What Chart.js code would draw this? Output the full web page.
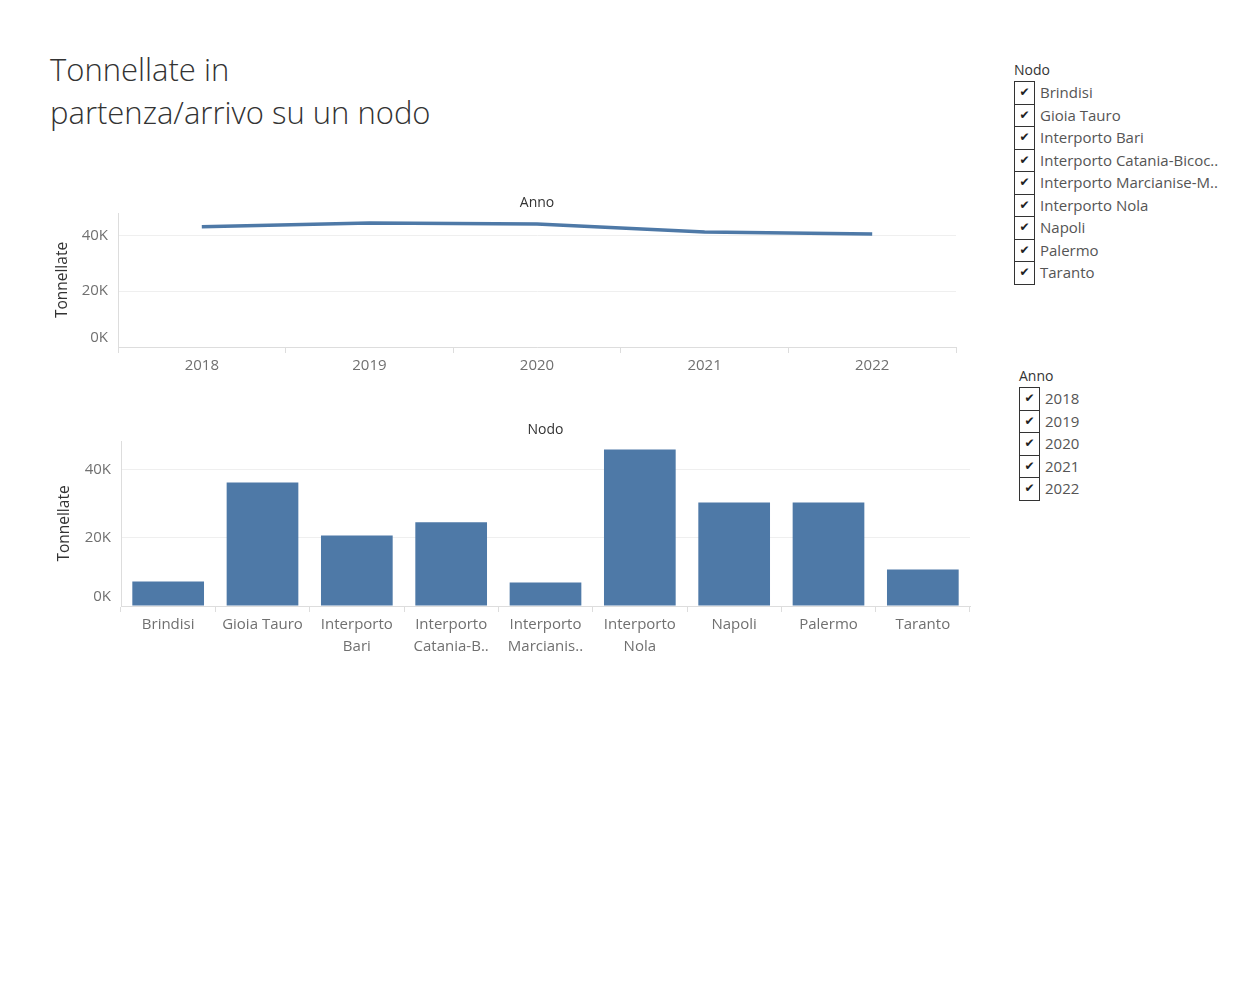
<!DOCTYPE html>
<html>
<head>
<meta charset="utf-8">
<script src="https://cdn.jsdelivr.net/npm/chart.js@4.4.1/dist/chart.umd.min.js"></script>
<style>
  body {
    margin: 0;
    background: #ffffff;
    font-family: "Open Sans", Lato, sans-serif;
  }

  #page {
    position: relative;
    width: 1250px;
    height: 1000px;
  }

  h1 {
    position: absolute;
    left: 50px;
    top: 48px;
    margin: 0;
    font-size: 31px;
    font-weight: 300;
    line-height: 43px;
    color: #333333;
  }

  .chartBox {
    position: absolute;
    left: 40px;
    width: 940px;
  }

  .filter {
    position: absolute;
    font-size: 15px;
    color: #555555;
  }

  .filter .head {
    font-size: 14px;
    color: #333333;
    height: 22px;
    line-height: 22px;
  }

  .filter .row {
    display: flex;
    align-items: center;
    height: 22.5px;
  }

  .filter .box {
    box-sizing: border-box;
    width: 21px;
    height: 23.5px;
    margin-bottom: -1px;
    border: 1px solid #333333;
    font-family: "DejaVu Sans", sans-serif;
    font-size: 12px;
    font-weight: bold;
    color: #222222;
    text-align: center;
    line-height: 21px;
    margin-right: 5px;
  }
</style>
</head>
<body>
<div id="page">
  <h1>Tonnellate in<br>partenza/arrivo su un nodo</h1>

  <div class="chartBox" style="top: 190px; height: 190px;">
    <canvas id="annoChart"></canvas>
  </div>

  <div class="chartBox" style="top: 415px; height: 250px;">
    <canvas id="nodoChart"></canvas>
  </div>

  <div class="filter" id="nodoFilter" style="left: 1014px; top: 59px;"></div>
  <div class="filter" id="annoFilter" style="left: 1019px; top: 365px;"></div>
</div>

<script>
// ======================================
// Dati
// ======================================

const anni = ["2018", "2019", "2020", "2021", "2022"];
const tonnellatePerAnno = [43100, 44400, 44050, 41200, 40500];

const nodiLegenda = [
  "Brindisi",
  "Gioia Tauro",
  "Interporto Bari",
  "Interporto Catania-Bicoc..",
  "Interporto Marcianise-M..",
  "Interporto Nola",
  "Napoli",
  "Palermo",
  "Taranto"
];

const nodiAsse = [
  "Brindisi",
  "Gioia Tauro",
  ["Interporto", "Bari"],
  ["Interporto", "Catania-B.."],
  ["Interporto", "Marcianis.."],
  ["Interporto", "Nola"],
  "Napoli",
  "Palermo",
  "Taranto"
];

const tonnellatePerNodo = [7200, 36300, 20700, 24600, 6900, 46000, 30400, 30400, 10700];

const yTicks = [0, 20000, 40000];


// ======================================
// Stile comune
// ======================================

const blu = "#4e79a7";
const grigioTesto = "#707070";
const grigioGriglia = "#efefef";
const grigioAsse = "#dddddd";
const fontFamily = "'Open Sans', Lato, sans-serif";

Chart.defaults.font.family = fontFamily;
Chart.defaults.animation = false;

// intestazione sopra l'area del grafico (come in Tableau)
const headerPlugin = {
  id: "header",
  afterDraw(chart, args, opts) {
    const { ctx, chartArea } = chart;
    ctx.save();
    ctx.font = "14px " + fontFamily;
    ctx.fillStyle = "#333333";
    ctx.textAlign = "center";
    ctx.textBaseline = "middle";
    ctx.fillText(opts.text, (chartArea.left + chartArea.right) / 2, chartArea.top - opts.gap);
    ctx.restore();
  }
};

// lo 0K sta sopra la linea di base: riga vuota sotto per alzarlo
function formatK(value) {
  if (value === 0) {
    return ["0K", ""];
  }
  return value / 1000 + "K";
}

function yScale(max, width, titlePad) {
  return {
    min: 0,
    max: max,
    afterBuildTicks: (scale) => {
      scale.ticks = yTicks.map((v) => ({ value: v }));
    },
    afterFit: (scale) => {
      scale.width = width;
    },
    grid: {
      color: grigioGriglia,
      drawTicks: false
    },
    border: {
      color: grigioAsse
    },
    ticks: {
      padding: 10,
      color: grigioTesto,
      font: { size: 15, lineHeight: 1.3 },
      callback: formatK
    },
    title: {
      display: true,
      text: "Tonnellate",
      color: "#333333",
      font: { size: 15.5 },
      padding: { top: 13, bottom: 0 }
    }
  };
}

function xScale(height) {
  return {
    offset: true,
    afterFit: (scale) => {
      scale.height = height;
    },
    grid: {
      offset: true,
      drawOnChartArea: false,
      drawTicks: true,
      tickLength: 6,
      color: grigioAsse
    },
    border: {
      color: grigioAsse
    },
    ticks: {
      padding: 2,
      color: grigioTesto,
      maxRotation: 0,
      autoSkip: false,
      font: { size: 15, lineHeight: 1.45 }
    }
  };
}


// ======================================
// Grafico per anno (linea)
// ======================================

new Chart(document.getElementById("annoChart"), {
  type: "line",
  data: {
    labels: anni,
    datasets: [
      {
        data: tonnellatePerAnno,
        borderColor: blu,
        borderWidth: 3.5,
        pointRadius: 0,
        tension: 0
      }
    ]
  },
  options: {
    responsive: true,
    maintainAspectRatio: false,
    layout: {
      padding: { top: 23, right: 24, bottom: 0, left: 0 }
    },
    plugins: {
      legend: { display: false },
      tooltip: { enabled: false },
      header: { text: "Anno", gap: 10 }
    },
    scales: {
      x: xScale(33),
      y: yScale(48000, 78)
    }
  },
  plugins: [headerPlugin]
});


// ======================================
// Grafico per nodo (barre)
// ======================================

new Chart(document.getElementById("nodoChart"), {
  type: "bar",
  data: {
    labels: nodiAsse,
    datasets: [
      {
        data: tonnellatePerNodo,
        backgroundColor: blu,
        categoryPercentage: 1,
        barPercentage: 0.76
      }
    ]
  },
  options: {
    responsive: true,
    maintainAspectRatio: false,
    layout: {
      padding: { top: 26, right: 10, bottom: 0, left: 0 }
    },
    plugins: {
      legend: { display: false },
      tooltip: { enabled: false },
      header: { text: "Nodo", gap: 11 }
    },
    scales: {
      x: xScale(59),
      y: yScale(48500, 81)
    }
  },
  plugins: [headerPlugin]
});

// l'asse y del grafico per nodo ha il titolo un po' più a destra
Chart.getChart("nodoChart").options.scales.y.title.padding = { top: 15, bottom: 0 };
Chart.getChart("nodoChart").update();


// ======================================
// Filtri a destra
// ======================================

function renderFilter(containerId, title, items) {
  const container = document.getElementById(containerId);

  container.innerHTML =
    `<div class="head">${title}</div>` +
    items
      .map((item) => {
        return `<div class="row"><div class="box">✔</div><span>${item}</span></div>`;
      })
      .join("");
}

renderFilter("nodoFilter", "Nodo", nodiLegenda);
renderFilter("annoFilter", "Anno", anni);
</script>
</body>
</html>
